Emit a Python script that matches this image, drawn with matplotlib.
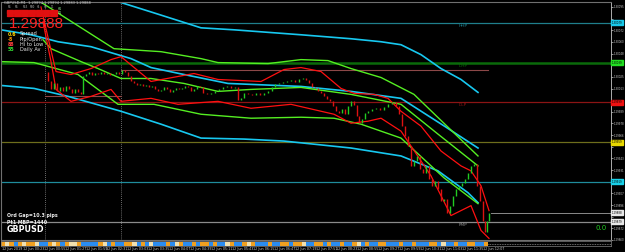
import matplotlib
matplotlib.use('Agg')
import matplotlib.pyplot as plt
import numpy as np
from matplotlib.patches import Rectangle

W, H = 625, 252

# ---- data (prices) ----
bar_x = [44, 47, 50, 53, 56, 59, 62, 65, 68, 71, 74, 77, 80, 82, 85, 88, 91, 94, 97, 100,
         103, 106, 109, 112, 115, 118, 121, 124, 127, 130, 133, 136, 139, 142, 145, 148, 151, 154, 157, 160,
         163, 166, 169, 172, 175, 178, 181, 184, 187, 190, 193, 196, 199, 202, 206, 210, 214, 218, 222, 226,
         230, 234, 237, 240, 243, 247, 251, 255, 259, 263, 267, 271, 274, 278, 282, 286, 290, 294, 298, 302,
         305, 308, 311, 314, 317, 320, 323, 326, 329, 332, 335, 338, 341, 344, 347, 350, 353, 356, 358, 361,
         364, 367, 371, 375, 379, 383, 387, 391, 395, 398, 401, 404, 407, 410, 413, 416, 419, 422, 425, 428,
         431, 434, 437, 440, 443, 446, 449, 452, 455, 458, 461, 464, 467, 470, 473, 476, 479, 482, 484, 486, 488]
close = [1.30030, 1.30020, 1.30012, 1.30018, 1.30010, 1.30014, 1.30010, 1.30015, 1.30012, 1.30008,
         1.30012, 1.30009, 1.30007, 1.30025, 1.30028, 1.30030, 1.30027, 1.30029, 1.30028, 1.30030,
         1.30028, 1.30029, 1.30027, 1.30028, 1.30030, 1.30028, 1.30032, 1.30030, 1.30025, 1.30020,
         1.30018, 1.30016, 1.30017, 1.30015, 1.30016, 1.30014, 1.30015, 1.30012, 1.30010, 1.30011,
         1.30014, 1.30012, 1.30009, 1.30011, 1.30013, 1.30012, 1.30013, 1.30015, 1.30014, 1.30010,
         1.30012, 1.30015, 1.30014, 1.30008, 1.30007, 1.30008, 1.30010, 1.30012, 1.30014, 1.30015,
         1.30013, 1.30014, 1.30001, 1.30003, 1.30008, 1.30007, 1.30006, 1.30008, 1.30006, 1.30008,
         1.30010, 1.30014, 1.30017, 1.30018, 1.30019, 1.30020, 1.30021, 1.30019, 1.30022, 1.30023,
         1.30021, 1.30018, 1.30014, 1.30013, 1.30010, 1.30008, 1.30005, 1.30002, 1.30000, 1.29995,
         1.29990, 1.29988, 1.29992, 1.29987, 1.29995, 1.30000, 1.29996, 1.29985, 1.29978, 1.29982,
         1.29988, 1.29990, 1.29992, 1.29993, 1.29991, 1.29994, 1.29997, 1.29999, 1.29995, 1.29987,
         1.29975, 1.29965, 1.29955, 1.29935, 1.29940, 1.29945, 1.29932, 1.29928, 1.29935, 1.29922,
         1.29915, 1.29920, 1.29912, 1.29900, 1.29902, 1.29888, 1.29895, 1.29905, 1.29912, 1.29915,
         1.29918, 1.29922, 1.29928, 1.29935, 1.29937, 1.29915, 1.29900, 1.29880, 1.29868, 1.29880, 1.29888]

cyan_up_x = [112, 150, 200, 233, 300, 350, 380, 400, 420, 440, 460, 477]
cyan_up = [1.30102, 1.30090, 1.30074, 1.30072, 1.30067, 1.30063, 1.30060, 1.30057, 1.30047, 1.30033, 1.30022, 1.30009]
cyan_mid_x = [0, 30, 57, 90, 130, 150, 183, 227, 300, 350, 400, 445, 477]
cyan_mid = [1.30072, 1.30067, 1.30060, 1.30055, 1.30043, 1.30034, 1.30027, 1.30018, 1.30015, 1.30010, 1.30003, 1.29974, 1.29953]
cyan_lo_x = [0, 33, 67, 120, 160, 200, 243, 283, 350, 400, 437, 467, 477]
cyan_lo = [1.30016, 1.30013, 1.30005, 1.29990, 1.29977, 1.29963, 1.29962, 1.29960, 1.29953, 1.29945, 1.29930, 1.29908, 1.29898]

green_up_x = [35, 113, 160, 200, 217, 267, 300, 327, 350, 380, 413, 447, 477]
green_up = [1.30103, 1.30053, 1.30050, 1.30043, 1.30039, 1.30038, 1.30042, 1.30041, 1.30033, 1.30024, 1.30007, 1.29974, 1.29945]
green_mid_x = [42, 50, 80, 97, 120, 150, 183, 217, 250, 300, 350, 400, 437, 477]
green_mid = [1.30062, 1.30053, 1.30040, 1.30033, 1.30023, 1.30023, 1.30018, 1.30010, 1.30012, 1.30014, 1.30007, 1.29997, 1.29967, 1.29935]
green_lo_x = [0, 33, 77, 117, 153, 200, 250, 300, 333, 360, 400, 443, 477]
green_lo = [1.30040, 1.30039, 1.30027, 1.29997, 1.29997, 1.29987, 1.29983, 1.29984, 1.29983, 1.29977, 1.29963, 1.29923, 1.29897]

red_up_x = [40, 48, 55, 70, 90, 110, 120, 150, 193, 217, 260, 283, 300, 320, 340, 353, 373, 387, 400, 420, 440, 460, 470, 480, 488]
red_up = [1.30095, 1.30060, 1.30030, 1.30027, 1.30033, 1.30042, 1.30045, 1.30020, 1.30028, 1.30022, 1.30020, 1.30032,
          1.30034, 1.30030, 1.30013, 1.30008, 1.30007, 1.30003, 1.29990, 1.29975, 1.29950, 1.29935, 1.29930, 1.29915, 1.29890]
red_lo_x = [42, 50, 55, 70, 90, 110, 120, 150, 177, 217, 250, 290, 333, 350, 367, 380, 400, 430, 450, 470, 480, 488]
red_lo = [1.30080, 1.30040, 1.30012, 1.30000, 1.30005, 1.30012, 1.30000, 1.30003, 1.29997, 1.30000, 1.29993, 1.29997,
          1.29987, 1.29978, 1.29980, 1.29983, 1.29970, 1.29925, 1.29885, 1.29895, 1.29870, 1.29862]

levels = [1.30079, 1.30039, 1.29999, 1.29959, 1.29919, 1.29879]
level_colors = ['#1f7f8c', '#0a6a0a', '#8b1414', '#6e6e1c', '#1f8c9c', '#8a8a8a']
level_names = ['HHP', 'DHP', 'DLP', '', '', 'FMP']
bid = 1.29888

date_labels = ['12 Jun 2019', '12 Jun 00:23', '12 Jun 00:55', '12 Jun 01:27', '12 Jun 01:59', '12 Jun 02:31',
               '12 Jun 03:03', '12 Jun 03:35', '12 Jun 04:07', '12 Jun 04:39', '12 Jun 05:11', '12 Jun 05:43',
               '12 Jun 06:15', '12 Jun 06:47', '12 Jun 07:19', '12 Jun 07:51', '12 Jun 08:23', '12 Jun 08:55',
               '12 Jun 09:27', '12 Jun 09:59', '12 Jun 10:31', '12 Jun 11:03', '12 Jun 11:35', '12 Jun 12:07']
strip_pattern = 'owobowoowbbowobowwobbbbowbobboowbobwbbbobwobboboobobbwobbowobbbobbooboowbboobobbobbowbobboobbbobbobbboobwbbobboobbo'

tf_labels = ['M1', 'M5', 'M15', 'M30', 'H1', 'H4', 'D1']
info_values = ['0.6', '-8', '88', '55']
info_colors = ['#ffd700', '#ff9900', '#ff4040', '#33dd33']
info_names = ['Spread', 'Pip/Open', 'Hi to Low', 'Daily Av']

fig = plt.figure(figsize=(W / 100, H / 100), dpi=100, facecolor='black')
ax = fig.add_axes([1 / W, 12 / H, 610 / W, 238 / H], facecolor='black')
ax.set_xlim(0, 610)
ax.set_ylim(1.29862, 1.30100)

def fx(x):
    return x / W

def fy(y):
    return 1 - y / H

# vertical separators
for vx in [44, 120]:
    ax.axvline(vx, color='#909090', lw=0.6, ls=(0, (1, 1.5)))

# horizontal levels
for p, c, name in zip(levels, level_colors, level_names):
    ax.axhline(p, color=c, lw=1.8 if c == '#0a6a0a' else 0.9)
    if name:
        ax.text(458, p - 0.00001, name, color=c, fontsize=3.2, va='top', ha='left')
ax.plot([120, 487], [1.30032, 1.30032], color='#8c4848', lw=0.8)
ax.plot([44, 120], [1.30005, 1.30005], color='#8c4848', lw=0.8)
ax.plot([490, 610], [bid, bid], color='#8a8a8a', lw=0.7)

# envelopes
for xs, ys in [(cyan_up_x, cyan_up), (cyan_mid_x, cyan_mid), (cyan_lo_x, cyan_lo)]:
    ax.plot(xs, ys, color='#17c8f0', lw=1.2)
for xs, ys in [(green_up_x, green_up), (green_mid_x, green_mid), (green_lo_x, green_lo)]:
    ax.plot(xs, ys, color='#55ee22', lw=1.0)
for xs, ys in [(red_up_x, red_up), (red_lo_x, red_lo)]:
    ax.plot(xs, ys, color='#ff1010', lw=0.9)

# candles
opens = [close[0]] + close[:-1]
cols = ['#22cc22' if c >= o else '#dd1111' for o, c in zip(opens, close)]
ax.vlines(bar_x, opens, close, colors=cols, lw=1.0)

# right price axis (labels hidden where a price box sits)
ax.yaxis.tick_right()
ticks = np.arange(1.30095, 1.29860, -0.0001173)
boxed = levels + [bid]
ax.set_yticks(ticks)
ax.set_yticklabels(['' if min(abs(t - b) for b in boxed) < 0.00005 else '%.5f' % t for t in ticks])
ax.tick_params(axis='y', colors='#c8c8c8', labelsize=1.9, length=1.5, width=0.5, pad=0.4)
ax.set_xticks([])
for s in ['top', 'left', 'bottom']:
    ax.spines[s].set_color('#707070')
    ax.spines[s].set_linewidth(0.8)
ax.spines['right'].set_color('#c8c8c8')
ax.spines['right'].set_linewidth(0.6)

# price boxes on the axis
box_colors = ['#19c8e8', '#22dd22', '#ee1111', '#e8d800', '#19d0e8', '#e8e8e8']
for p, c in zip(boxed, box_colors + ['#e8e8e8']):
    y0 = ax.transData.transform((0, p))[1]
    fig.patches.append(Rectangle((611 / W, (y0 - 2.5) / H), 12 / W, 5 / H, color=c,
                                 transform=fig.transFigure, figure=fig, zorder=5))
    fig.text(612 / W, y0 / H, '%.5f' % p, color='black', fontsize=1.9, va='center', zorder=6)

# bottom colour strip
sax = fig.add_axes([1 / W, 6 / H, 610 / W, 5 / H], facecolor='black')
sax.set_xlim(0, 610)
sax.set_ylim(0, 1)
cmap = {'b': '#2a8cf0', 'o': '#f0a020', 'w': '#f0e0b0'}
seg = 487 / len(strip_pattern)
for i, ch in enumerate(strip_pattern):
    sax.add_patch(Rectangle((i * seg, 0.1), seg, 0.8, color=cmap[ch], lw=0))
sax.plot([487, 610], [0.5, 0.5], color='#909090', lw=0.6, ls=(0, (1, 1)))
sax.set_xticks([])
sax.set_yticks([])
for s in sax.spines.values():
    s.set_color('#808080')
    s.set_linewidth(0.5)

for i, lab in enumerate(date_labels):
    fig.text(fx(2 + i * 20.9), fy(249), lab, color='#c8c8c8', fontsize=2.4, va='center')

# top-left header & info
fig.text(fx(4), fy(3), 'GBPUSD,M1  1.29894 1.29894 1.29883 1.29888', color='#d0d0d0', fontsize=2.6, va='center')
for c, lab in enumerate(tf_labels):
    fig.text(fx(8 + c * 7.2), fy(7.5), lab, color='#b0b0b0', fontsize=1.8, va='center')
for r in range(3):
    for c in range(7):
        fig.patches.append(Rectangle((fx(7 + c * 7.2), fy(11.5 + r * 2.4)), 6.4 / W, 1.8 / H,
                                     color='#e01010', transform=fig.transFigure, figure=fig))
fig.text(fx(58), fy(11), 'H1\nD1', color='#a0ffa0', fontsize=2.2, va='center', linespacing=0.9)
fig.text(fx(9), fy(23.5), '1.29888', color='#ff2020', fontsize=11, va='center',
         family='Liberation Sans')
for i, (v, c, n) in enumerate(zip(info_values, info_colors, info_names)):
    yy = 34 + i * 5.3
    fig.text(fx(8), fy(yy), v, color=c, fontsize=3.4, va='center', fontweight='bold')
    fig.text(fx(20), fy(yy), n, color='#e8e8e8', fontsize=3.6, va='center')

fig.text(fx(7), fy(216), 'Ord Gap=10.3 pips', color='#f0f0f0', fontsize=3.4, va='center', fontweight='bold')
fig.text(fx(7), fy(222), 'Pt1 MBP=1440', color='#f0f0f0', fontsize=3.4, va='center', fontweight='bold')
fig.text(fx(7), fy(230), 'GBPUSD', color='white', fontsize=5.8, va='center', fontweight='bold')
fig.text(fx(595), fy(228), '0.0', color='#22cc22', fontsize=5, va='center')

fig.savefig('out.png', dpi=100, facecolor='black')
